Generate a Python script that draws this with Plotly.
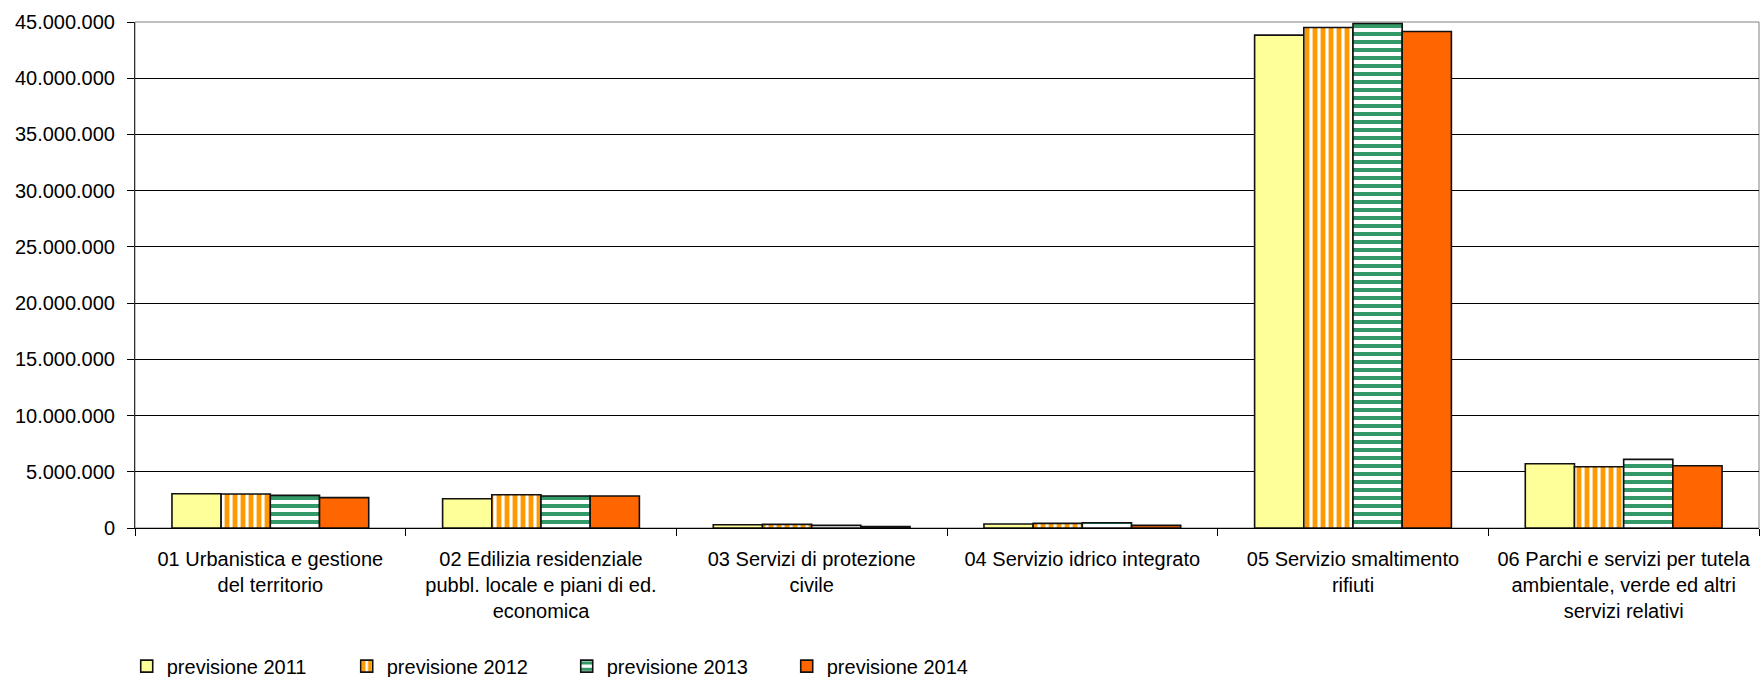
import plotly.graph_objects as go

# Spending forecasts per service area (euro)
categories = [
    "01 Urbanistica e gestione<br>del territorio",
    "02 Edilizia residenziale<br>pubbl. locale e piani di ed.<br>economica",
    "03 Servizi di protezione<br>civile",
    "04 Servizio idrico integrato",
    "05 Servizio smaltimento<br>rifiuti",
    "06 Parchi e servizi per tutela<br>ambientale, verde ed altri<br>servizi relativi",
]
previsione_2011 = [3050000, 2600000, 290000, 350000, 43830000, 5720000]
previsione_2012 = [3020000, 2960000, 320000, 410000, 44510000, 5450000]
previsione_2013 = [2900000, 2850000, 230000, 470000, 44870000, 6100000]
previsione_2014 = [2700000, 2850000, 140000, 230000, 44150000, 5540000]

series_names = ["previsione 2011", "previsione 2012", "previsione 2013", "previsione 2014"]
y_ticks = [0, 5000000, 10000000, 15000000, 20000000, 25000000, 30000000, 35000000, 40000000, 45000000]

W, H = 1760, 677
ML, MR, MT, MB = 135, 1, 22, 149
FONT = "Liberation Sans, Arial, sans-serif"

styles = [
    dict(color="#FFFF99"),
    dict(color="#FFFFFF", pattern=dict(shape="|", fgcolor="#FF9900", bgcolor="#FFFFFF",
                                       size=8, solidity=0.6, fillmode="replace", fgopacity=1)),
    dict(color="#FFFFFF", pattern=dict(shape="-", fgcolor="#339966", bgcolor="#FFFFFF",
                                       size=8, solidity=0.5, fillmode="replace", fgopacity=1)),
    dict(color="#FF6600"),
]

fig = go.Figure()
for name, vals, st in zip(series_names,
                          [previsione_2011, previsione_2012, previsione_2013, previsione_2014],
                          styles):
    fig.add_trace(go.Bar(
        x=categories, y=vals, name=name,
        marker=dict(line=dict(color="#111111", width=1.6), **st),
    ))

fig.update_layout(
    width=W, height=H,
    margin=dict(l=ML, r=MR, t=MT, b=MB, pad=0),
    paper_bgcolor="white", plot_bgcolor="white",
    barmode="group", bargap=0.273, bargroupgap=0,
    separators=",.",
    font=dict(family=FONT, size=20, color="#000000"),
    showlegend=True,
    legend=dict(
        orientation="h", xref="container", yref="container",
        x=0.072, y=0.016, xanchor="left", yanchor="middle",
        entrywidth=175, entrywidthmode="pixels",
        font=dict(family=FONT, size=20, color="#000000"),
        bgcolor="rgba(0,0,0,0)", itemclick=False,
    ),
    xaxis=dict(
        type="category", tickson="boundaries", ticks="outside", ticklen=7,
        tickcolor="#000000", showline=True, linecolor="#000000", linewidth=1,
        showgrid=False, ticklabelstandoff=13,
        tickfont=dict(family=FONT, size=20, color="#000000"),
    ),
    yaxis=dict(
        range=[0, 45000000], tickvals=y_ticks, tickformat=",d",
        ticks="outside", ticklen=7, tickcolor="#000000",
        showline=True, linecolor="#333333", linewidth=1,
        showgrid=True, gridcolor="#000000", gridwidth=1, zeroline=False,
        ticklabelstandoff=8, tickfont=dict(family=FONT, size=20, color="#000000"),
    ),
    shapes=[dict(type="rect", xref="paper", yref="paper", x0=0, x1=1, y0=0, y1=1,
                 line=dict(color="#808080", width=1), layer="below")],
)

fig.write_html("out.html")
